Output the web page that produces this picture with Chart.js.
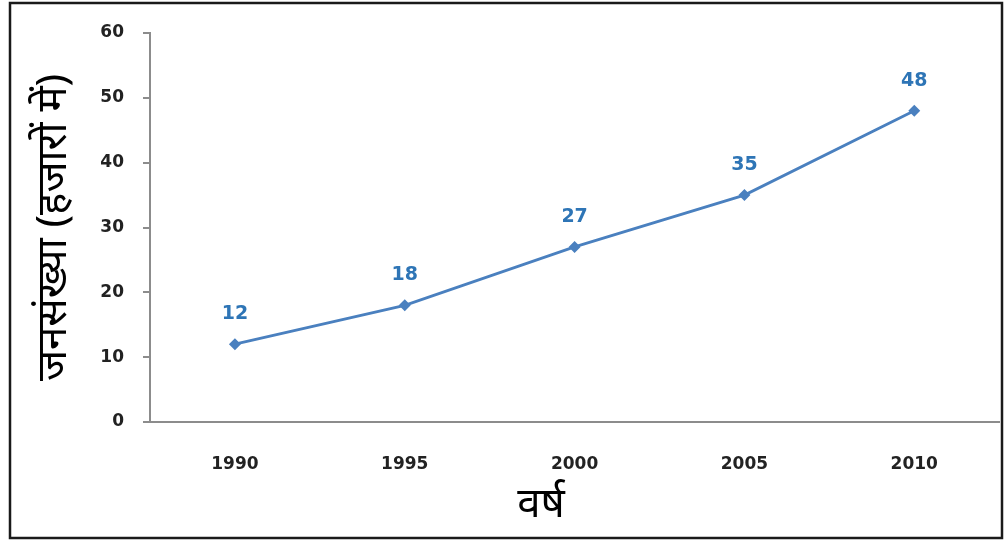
<!DOCTYPE html>
<html>
<head>
<meta charset="utf-8">
<script src="https://cdn.jsdelivr.net/npm/chart.js@4/dist/chart.umd.min.js"></script>
<style>
  html, body { margin: 0; padding: 0; background: #fff; }
  #wrap { width: 1006px; height: 543px; }
</style>
</head>
<body>
<div id="wrap"><canvas id="chart" width="1006" height="543"></canvas></div>
<script>
// values
const years = ['1990', '1995', '2000', '2005', '2010'];
const population = [12, 18, 27, 35, 48];
const yTicks = [0, 10, 20, 30, 40, 50, 60];

const xTitle = 'वर्ष';
const yTitle = 'जनसंख्या (हजारों में)';

const lineBlue = '#4a80bf';
const labelBlue = '#2e75b6';
const axisGrey = '#8c8c8c';
const tickFont = { family: '"DejaVu Sans", sans-serif', size: 17, weight: 'bold' };

// white background and the black frame round the picture
const framePlugin = {
  id: 'frame',
  beforeDraw(chart) {
    const ctx = chart.ctx;
    ctx.save();
    ctx.fillStyle = '#fff';
    ctx.fillRect(0, 0, chart.width, chart.height);
    ctx.strokeStyle = '#1a1a1a';
    ctx.lineWidth = 2.5;
    ctx.strokeRect(10, 3, 992, 535);
    ctx.restore();
  }
};

// value labels above each point, and the x title (sits left of the plot centre)
const valueLabels = {
  id: 'valueLabels',
  afterDatasetsDraw(chart) {
    const ctx = chart.ctx;
    const meta = chart.getDatasetMeta(0);
    ctx.save();
    ctx.fillStyle = labelBlue;
    ctx.font = 'bold 19px "DejaVu Sans", sans-serif';
    ctx.textAlign = 'center';
    ctx.textBaseline = 'middle';
    meta.data.forEach((pt, i) => {
      ctx.fillText(String(population[i]), pt.x, pt.y - 30);
    });
    ctx.fillStyle = '#000';
    ctx.font = '42px "Noto Sans", sans-serif';
    ctx.fillText(xTitle, chart.chartArea.left + 391, 505);
    ctx.restore();
  }
};

new Chart(document.getElementById('chart'), {
  type: 'line',
  data: {
    labels: years,
    datasets: [{
      data: population,
      borderColor: lineBlue,
      backgroundColor: lineBlue,
      borderWidth: 2.8,
      pointStyle: 'rectRot',
      pointRadius: 4,
      pointHoverRadius: 4,
      tension: 0
    }]
  },
  options: {
    responsive: false,
    animation: false,
    layout: { padding: { top: 33, right: 6, left: 0, bottom: 0 } },
    plugins: {
      legend: { display: false },
      tooltip: { enabled: false }
    },
    scales: {
      x: {
        offset: true,
        grid: { display: false },
        border: { color: axisGrey, width: 2 },
        ticks: { color: '#222', font: tickFont, padding: 24 },
        afterFit(scale) { scale.height = 121; }
      },
      y: {
        min: 0,
        max: 60,
        afterBuildTicks(scale) { scale.ticks = yTicks.map(v => ({ value: v })); },
        grid: { drawOnChartArea: false, drawTicks: true, tickLength: 7, color: axisGrey, lineWidth: 2 },
        border: { color: axisGrey, width: 2 },
        ticks: { color: '#222', font: tickFont, padding: 19 },
        title: {
          display: true,
          text: yTitle,
          color: '#000',
          font: { family: '"Noto Sans", sans-serif', size: 42 },
          padding: { top: 29, bottom: 0 }
        },
        afterFit(scale) { scale.width = 150; }
      }
    }
  },
  plugins: [framePlugin, valueLabels]
});
</script>
</body>
</html>
